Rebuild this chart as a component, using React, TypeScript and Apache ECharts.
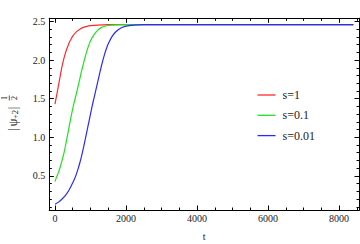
import React, { useEffect, useRef } from "react";
import * as echarts from "echarts";

const seriesNames = ["s=1", "s=0.1", "s=0.01"];
const seriesColors = ["#ff2a2a", "#22e022", "#2a2aff"];

const redT = [0, 50, 100, 150, 200, 250, 300, 350, 400, 450, 500, 600, 700, 800, 900, 1000, 1200, 1500, 2000, 3000, 8400];
const redV = [1.43, 1.55, 1.675, 1.8, 1.92, 2.02, 2.1, 2.165, 2.225, 2.27, 2.31, 2.365, 2.4, 2.423, 2.437, 2.445, 2.453, 2.458, 2.46, 2.46, 2.46];

const greenT = [0, 50, 100, 150, 200, 250, 300, 350, 400, 450, 500, 550, 600, 650, 700, 750, 800, 850, 900, 950, 1000, 1100, 1200, 1300, 1400, 1500, 1700, 2000, 2500, 8400];
const greenV = [0.425, 0.49, 0.545, 0.62, 0.7, 0.79, 0.9, 1.02, 1.14, 1.26, 1.37, 1.47, 1.56, 1.66, 1.76, 1.86, 1.95, 2.04, 2.12, 2.19, 2.25, 2.33, 2.385, 2.42, 2.438, 2.448, 2.456, 2.46, 2.46, 2.46];

const blueT = [0, 100, 200, 300, 400, 500, 550, 600, 650, 700, 750, 800, 850, 900, 950, 1000, 1050, 1100, 1150, 1200, 1250, 1300, 1350, 1400, 1450, 1500, 1600, 1700, 1800, 1900, 2000, 2200, 2500, 3000, 8400];
const blueV = [0.132, 0.16, 0.2, 0.25, 0.32, 0.41, 0.46, 0.52, 0.59, 0.67, 0.76, 0.86, 0.97, 1.08, 1.19, 1.3, 1.41, 1.51, 1.61, 1.71, 1.81, 1.91, 2.0, 2.08, 2.15, 2.21, 2.3, 2.36, 2.4, 2.425, 2.44, 2.452, 2.458, 2.46, 2.46];

const xMin = -160;
const xMax = 8560;
const yMin = 0.058;
const yMax = 2.541;

const zip = (t: number[], v: number[]) => t.map((x, i) => [x, v[i]]);

const FONT = "'Liberation Serif', 'DejaVu Serif', serif";
const TXT = "#222";

function xAxisDef(position: "top" | "bottom", major: boolean, labels: boolean, name?: string) {
  return {
    type: "value",
    position,
    min: xMin,
    max: xMax,
    splitNumber: major ? 5 : 18,
    name: name,
    nameLocation: "middle",
    nameGap: 21,
    nameTextStyle: { fontFamily: FONT, fontSize: 10, color: TXT },
    axisLine: { show: true, onZero: false, lineStyle: { color: "#000", width: 1 } },
    axisTick: { show: true, inside: true, length: major ? 4.5 : 2.5, lineStyle: { color: "#000", width: 1 } },
    axisLabel: {
      show: labels,
      showMinLabel: false,
      showMaxLabel: false,
      margin: 3,
      fontFamily: FONT,
      fontSize: 10,
      color: TXT,
      formatter: (v: number) => String(v),
    },
    splitLine: { show: false },
    minorTick: { show: false },
  };
}

function yAxisDef(position: "left" | "right", major: boolean, labels: boolean) {
  return {
    type: "value",
    position,
    min: yMin,
    max: yMax,
    splitNumber: major ? 5 : 24,
    axisLine: { show: true, onZero: false, lineStyle: { color: "#000", width: 1 } },
    axisTick: { show: true, inside: true, length: major ? 4.5 : 2.5, lineStyle: { color: "#000", width: 1 } },
    axisLabel: {
      show: labels,
      showMinLabel: false,
      showMaxLabel: false,
      margin: 4,
      fontFamily: FONT,
      fontSize: 10,
      color: TXT,
      formatter: (v: number) => v.toFixed(1),
    },
    splitLine: { show: false },
    minorTick: { show: false },
  };
}

export default function App() {
  const ref = useRef<HTMLDivElement>(null);
  useEffect(() => {
    if (!ref.current) return;
    const chart = echarts.init(ref.current, null, { renderer: "svg" });
    const datasets = [zip(redT, redV), zip(greenT, greenV), zip(blueT, blueV)];
    const smallFont = (size: number) => `${size}px ${FONT}`;
    const labelText = (text: string, x: number, y: number, size: number) => ({
      type: "text",
      x,
      y,
      style: {
        text,
        font: smallFont(size),
        fill: "#111",
        align: "center",
        verticalAlign: "middle",
        textAlign: "center",
        textVerticalAlign: "middle",
      },
    });
    chart.setOption({
      animation: false,
      backgroundColor: "#fff",
      grid: { left: 49.3, right: 1, top: 18.3, bottom: 34, containLabel: false, outerBoundsMode: "none" },
      xAxis: [
        xAxisDef("bottom", true, true, "t"),
        xAxisDef("bottom", false, false),
        xAxisDef("top", true, false),
        xAxisDef("top", false, false),
      ],
      yAxis: [
        yAxisDef("left", true, true),
        yAxisDef("left", false, false),
        yAxisDef("right", true, false),
        yAxisDef("right", false, false),
      ],
      legend: {
        data: seriesNames,
        orient: "vertical",
        left: 252.5,
        top: 84,
        itemWidth: 18,
        itemHeight: 14,
        itemGap: 8.3,
        icon: "path://M0,0 L18,0 L18,1.3 L0,1.3 Z",
        textStyle: { fontFamily: FONT, fontSize: 12, color: TXT, padding: [0, 0, 0, 2] },
      },
      series: seriesNames.map((name, i) => ({
        name,
        type: "line",
        xAxisIndex: 0,
        yAxisIndex: 0,
        data: datasets[i],
        symbol: "none",
        showSymbol: false,
        smooth: 0.2,
        color: seriesColors[i],
        itemStyle: { color: seriesColors[i] },
        lineStyle: { color: seriesColors[i], width: 1.2 },
      })),
      graphic: [
        {
          type: "group",
          x: 13.3,
          y: 133,
          rotation: Math.PI / 2,
          children: [
            labelText("|", 3.3, 0, 12),
            labelText("ψ", 10.5, 0, 12),
            labelText("+2", 18.5, 1.5, 8.5),
            labelText("|", 25, 0, 12),
            labelText("1", 35, -8.5, 8),
            {
              type: "line",
              shape: { x1: 32.5, y1: -4, x2: 37.5, y2: -4 },
              style: { stroke: "#111", lineWidth: 0.7 },
            },
            labelText("2", 35, 1, 8),
          ],
        },
      ],
    });
    return () => chart.dispose();
  }, []);
  return (
    <div
      ref={ref}
      style={{ position: "fixed", left: 0, top: 0, width: 360, height: 244, background: "#fff" }}
    />
  );
}
